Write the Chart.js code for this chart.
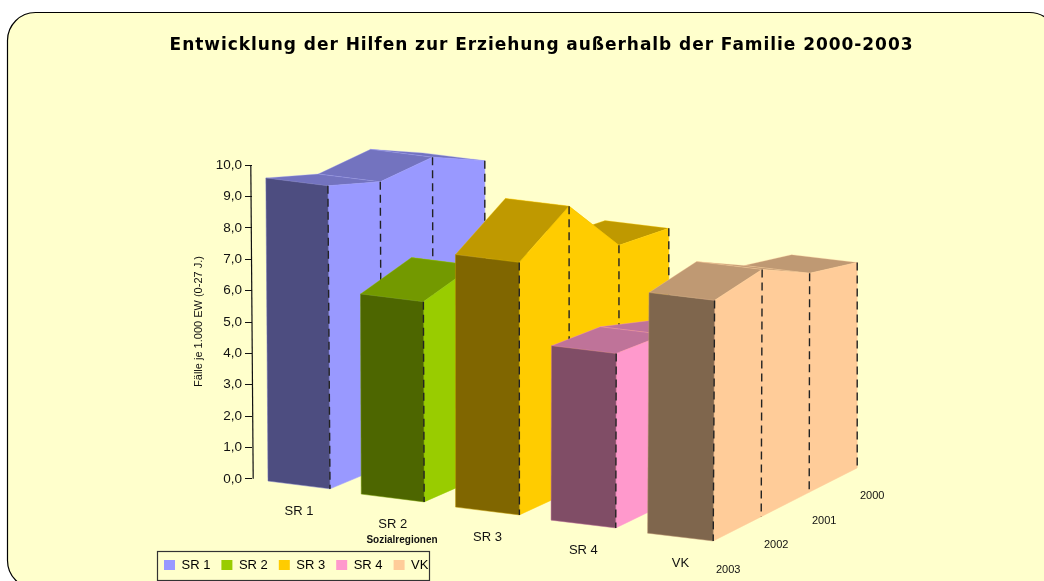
<!DOCTYPE html>
<html><head><meta charset="utf-8">
<style>html,body{margin:0;padding:0;background:#fff;overflow:hidden}canvas{display:block}</style>
<script src="https://cdn.jsdelivr.net/npm/chart.js@4/dist/chart.umd.min.js"></script>
</head><body><div style="width:1044px;height:581px"><canvas id="c" width="1044" height="581"></canvas></div>
<script>
const categories = ['SR 1','SR 2','SR 3','SR 4','VK'];
const years = ['2000','2001','2002','2003'];
const sr1 = [8.40, 9.20, 9.10, 9.66];
const sr2 = [5.60, 5.70, 6.83, 6.38];
const sr3 = [6.94, 7.13, 9.11, 8.05];
const sr4 = [4.80, 4.85, 5.41, 5.56];
const vk  = [6.55, 6.98, 7.88, 7.67];
const seriesValues = [sr1, sr2, sr3, sr4, vk];
const yTicks = [0,1,2,3,4,5,6,7,8,9,10];
const titleText = 'Entwicklung der Hilfen zur Erziehung außerhalb der Familie 2000-2003';
const yTitle = 'Fälle je 1.000 EW (0-27 J.)';
const xTitle = 'Sozialregionen';
const sideColors  = ['#9999FF','#99CC00','#FFCC00','#FF99CC','#FFCC99'];
const roofColors  = ['#7373BF','#739900','#BF9900','#BF7399','#BF9973'];
const frontColors = ['#4D4D80','#4D6600','#806600','#804D66','#7F664D'];

const PX_PER_VALUE = 31.3, ZERO_Y = 478, ORIGIN_X = 330, PX_PER_CAT = 95.6;
// oblique projection of (category, depth in years from 2003, side 0..1, value) onto the two scales
function project(c, d, s, v){
  const wx = 62 + 0.9*c, wy = 7.8;
  const dx = 51.6 - 0.9*c, dy = -21.5 - 0.7*c;
  const lean = (c*0.1 - 0.22)*(1 - d/3)*v;
  const px = 330 + 93.6*c + 0.55*c*c + d*dx - (1-s)*wx + lean;
  const gy = 488 + 13*c + d*dy - (1-s)*wy;
  return {x:(px-ORIGIN_X)/PX_PER_CAT, y:(ZERO_Y-gy)/PX_PER_VALUE + v};
}

class FaceController extends Chart.ScatterController {
  draw(){
    const ds = this.getDataset(), pts = this.getMeta().data, ctx = this.chart.ctx;
    ctx.save();
    ctx.beginPath();
    pts.forEach((p,i)=> i ? ctx.lineTo(p.x,p.y) : ctx.moveTo(p.x,p.y));
    ctx.closePath();
    ctx.fillStyle = ds.faceColor; ctx.fill();
    ctx.strokeStyle = ds.edgeColor; ctx.lineWidth = ds.edgeWidth; ctx.stroke();
    ctx.restore();
  }
}
FaceController.id = 'face';
FaceController.defaults = {datasetElementType:false, dataElementType:'point', showLine:false};
Chart.register(FaceController);

const datasets = [];
function face(label, pts, fill, edge, w){
  datasets.push({type:'face', label, data:pts, faceColor:fill, edgeColor:edge, edgeWidth:w, pointRadius:0, clip:false});
}
seriesValues.forEach((arr, c)=>{
  const name = categories[c];
  const val = d => arr[3-d];           // d = 0 is 2003 (front)
  for(let d=2; d>=0; d--){
    face(name+' top', [project(c,d,0,val(d)),project(c,d,1,val(d)),project(c,d+1,1,val(d+1)),project(c,d+1,0,val(d+1))], roofColors[c], sideColors[c]+'88', 0.6);
    face(name+' side', [project(c,d,1,0),project(c,d,1,val(d)),project(c,d+1,1,val(d+1)),project(c,d+1,1,0)], sideColors[c], sideColors[c], 0.5);
  }
  face(name+' front', [project(c,0,0,0),project(c,0,0,val(0)),project(c,0,1,val(0)),project(c,0,1,0)], frontColors[c], roofColors[c], 0.5);
  for(let d=3; d>=0; d--){
    datasets.push({type:'scatter', label:name+' '+years[3-d], data:[project(c,d,1,val(d)),project(c,d,1,0)], showLine:true, borderColor:'#222', borderWidth:1.4, borderDash:[8,5], pointRadius:0, clip:false});
  }
});
datasets.push({type:'scatter', label:'axis', data:[{x:(253.2-ORIGIN_X)/PX_PER_CAT,y:0},{x:(250.8-ORIGIN_X)/PX_PER_CAT,y:10}], showLine:true, borderColor:'#111', borderWidth:1.2, pointRadius:0, clip:false});
datasets.forEach((ds,i)=>{ ds.order = datasets.length - i; });

const placement = {
  id:'placement',
  beforeDraw(chart){
    const ctx = chart.ctx, x=7, y=12, w=1050, h=576, r=28;
    ctx.save();
    ctx.fillStyle='#fff'; ctx.fillRect(0,0,1044,581);
    ctx.beginPath(); ctx.roundRect(x+.5,y+.5,w,h,r);
    ctx.fillStyle='#FFFFCC'; ctx.fill();
    ctx.strokeStyle='#000'; ctx.lineWidth=1.2; ctx.stroke();
    ctx.restore();
  },
  afterLayout(chart){
    const t = chart.titleBlock;
    t.left = 0; t.right = 1083;
    if(!t._spaced){
      const draw = t.draw.bind(t);
      t.draw = function(){ const c=this.ctx; c.save(); c.letterSpacing='0.95px'; draw(); c.restore(); };
      t._spaced = true;
    }
    chart.legend.left = 153; chart.legend.right = 700; chart.legend.top = 547.5;
  },
  afterDatasetsDraw(chart){
    const ctx = chart.ctx, X = chart.scales.x, Y = chart.scales.y;
    const at = p => [X.getPixelForValue(p.x), Y.getPixelForValue(p.y)];
    ctx.save();
    ctx.fillStyle='#111'; ctx.textAlign='center'; ctx.textBaseline='middle';
    ctx.font='13px "Liberation Sans"';
    categories.forEach((n,c)=>{ const [px,py]=at(project(c,0,0.5,0)); ctx.fillText(n,px,py+26); });
    ctx.font='11px "Liberation Sans"';
    years.forEach((n,i)=>{ const [px,py]=at(project(4,3-i,1,0)); ctx.fillText(n,px+15,py+28.5); });
    ctx.font='bold 10px "Liberation Sans"';
    ctx.fillText(xTitle,402,540.5);
    ctx.strokeStyle='#333'; ctx.lineWidth=1.2;
    ctx.strokeRect(157.5,551.5,272,29);
    ctx.restore();
  }
};

new Chart(document.getElementById('c'),{
  type:'scatter',
  data:{datasets},
  plugins:[placement],
  options:{
    responsive:false, animation:false, events:[],
    layout:{padding:{left:190,right:144,top:0,bottom:0}},
    plugins:{
      tooltip:{enabled:false},
      title:{display:true,text:titleText,color:'#000',font:{family:'"DejaVu Sans"',size:17,weight:'bold',lineHeight:1.2},padding:{top:35,bottom:40.6}},
      legend:{position:'bottom',align:'start',labels:{
        font:{family:'"Liberation Sans"',size:13},color:'#111',boxWidth:11,boxHeight:10,padding:11,
        generateLabels:()=>categories.map((t,i)=>({text:t,fillStyle:sideColors[i],strokeStyle:sideColors[i],lineWidth:0,hidden:false}))
      }}
    },
    scales:{
      x:{type:'linear',display:false,bounds:'data',min:(252-ORIGIN_X)/PX_PER_CAT,max:(900-ORIGIN_X)/PX_PER_CAT},
      y:{type:'linear',position:'left',bounds:'data',
        min:(ZERO_Y-546)/PX_PER_VALUE,max:(ZERO_Y-96)/PX_PER_VALUE,
        afterFit(s){s.width=62;},
        afterBuildTicks(s){s.ticks=yTicks.map(v=>({value:v}));},
        ticks:{autoSkip:false,padding:3,color:'#111',font:{family:'"Liberation Sans"',size:13.5},callback:v=>v.toFixed(1).replace('.',',')},
        grid:{drawOnChartArea:false,drawTicks:true,tickLength:7,color:'#111',lineWidth:1},
        border:{display:false},
        title:{display:true,text:yTitle,color:'#111',font:{family:'"Liberation Sans"',size:11},padding:{top:2,bottom:0}}
      }
    }
  }
});
</script></body></html>
